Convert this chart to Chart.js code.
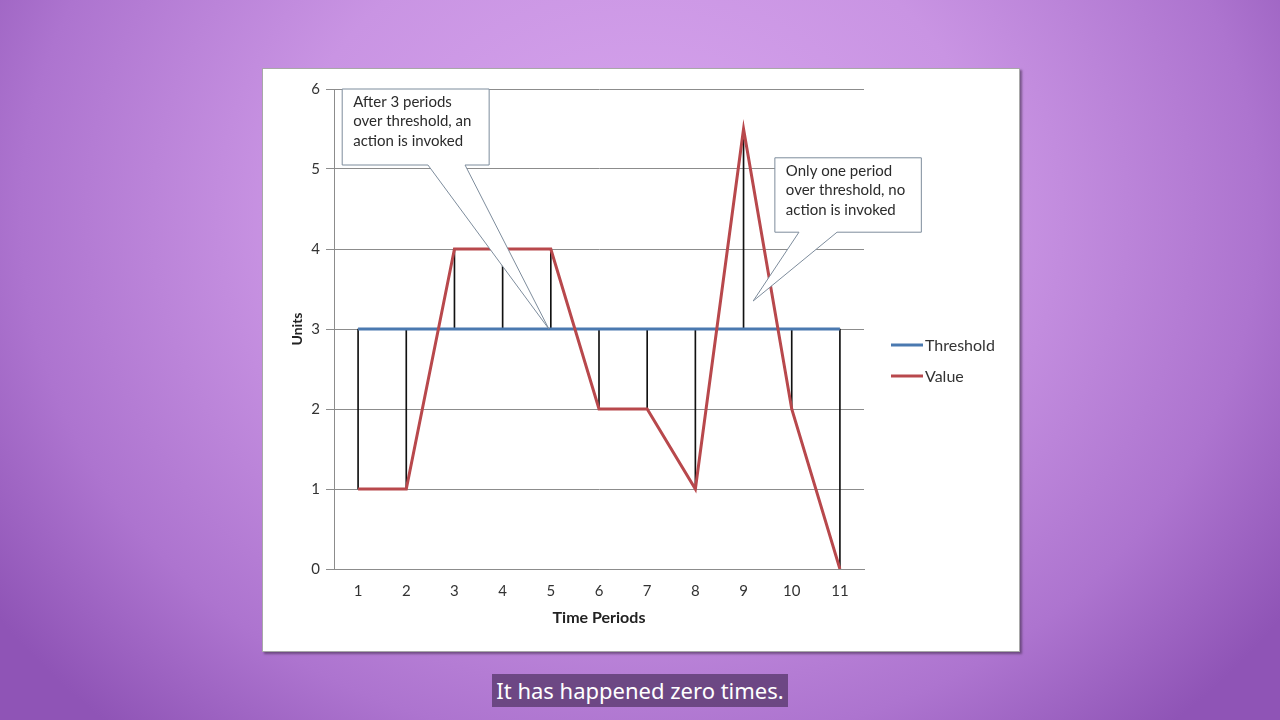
<!DOCTYPE html>
<html>
<head>
<meta charset="utf-8">
<script src="https://cdn.jsdelivr.net/npm/chart.js@4"></script>
<style>
  html, body { margin: 0; padding: 0; }
  body {
    width: 1280px; height: 720px; overflow: hidden; position: relative;
    background: radial-gradient(ellipse 62% 95% at 50% 30%, #d8a6ee 0%, #c994e3 45%, #ad74cf 78%, #8f54b6 100%);
  }
  #panel {
    position: absolute; left: 262px; top: 68px; width: 756px; height: 582px;
    background: #fff; border: 1px solid #a8a8a8;
    box-shadow: 2px 2px 2px rgba(60, 40, 70, 0.55);
  }
  #chart { position: absolute; left: 0; top: 0; }
  #caption {
    position: absolute; left: 492px; top: 674px; width: 296px; height: 33px;
    background: rgba(96, 62, 118, 0.85); color: #fff;
    font-family: "Noto Sans", sans-serif; font-size: 22px; line-height: 33px;
    text-align: center; white-space: nowrap;
  }
</style>
</head>
<body>
<div id="panel"><canvas id="chart" width="756" height="582"></canvas></div>
<div id="caption">It has happened zero times.</div>
<script>
// data
var periods = ['1', '2', '3', '4', '5', '6', '7', '8', '9', '10', '11'];
var threshold = [3, 3, 3, 3, 3, 3, 3, 3, 3, 3, 3];
var values = [1, 1, 4, 4, 4, 2, 2, 1, 5.5, 2, 0];
var yTicks = [0, 1, 2, 3, 4, 5, 6];

// callouts: box corners, tail base and tip in data units (x = period index)
var callouts = [
  { lines: ['After 3 periods', 'over threshold, an', 'action is invoked'],
    box: [-0.33, 6.0, 2.72, 5.05], tail: [1.45, 2.22], tip: [3.96, 3.0] },
  { lines: ['Only one period', 'over threshold, no', 'action is invoked'],
    box: [8.65, 5.14, 11.69, 4.21], tail: [9.15, 9.94], tip: [8.2, 3.35] }
];

var FONT = 'Lato, "Open Sans", sans-serif';
Chart.defaults.font.family = FONT;
Chart.defaults.color = '#333';

var calloutPlugin = {
  id: 'callouts',
  afterDatasetsDraw: function(chart) {
    var ctx = chart.ctx, xs = chart.scales.x, ys = chart.scales.y;
    callouts.forEach(function(c) {
      var l = xs.getPixelForValue(c.box[0]), t = ys.getPixelForValue(c.box[1]);
      var r = xs.getPixelForValue(c.box[2]), b = ys.getPixelForValue(c.box[3]);
      var t1 = xs.getPixelForValue(c.tail[0]), t2 = xs.getPixelForValue(c.tail[1]);
      var tx = xs.getPixelForValue(c.tip[0]), ty = ys.getPixelForValue(c.tip[1]);
      ctx.save();
      ctx.beginPath();
      ctx.moveTo(l, t);
      ctx.lineTo(r, t);
      ctx.lineTo(r, b);
      ctx.lineTo(t2, b);
      ctx.lineTo(tx, ty);
      ctx.lineTo(t1, b);
      ctx.lineTo(l, b);
      ctx.closePath();
      ctx.fillStyle = '#ffffff';
      ctx.fill();
      ctx.strokeStyle = '#7d8c9c';
      ctx.lineWidth = 1;
      ctx.stroke();
      ctx.fillStyle = '#2b2b2b';
      ctx.font = '15px ' + FONT;
      ctx.textBaseline = 'middle';
      c.lines.forEach(function(s, i) {
        ctx.fillText(s, l + 11, t + 13 + i * 19.5);
      });
      ctx.restore();
    });
  }
};

var legendPlugin = {
  id: 'sideLegend',
  afterDraw: function(chart) {
    var ctx = chart.ctx;
    var items = [chart.data.datasets[1], chart.data.datasets[0]];
    ctx.save();
    items.forEach(function(ds, i) {
      var y = 276 + i * 31;
      ctx.strokeStyle = ds.borderColor;
      ctx.lineWidth = 3;
      ctx.beginPath();
      ctx.moveTo(628, y);
      ctx.lineTo(660, y);
      ctx.stroke();
      ctx.fillStyle = '#333';
      ctx.font = '16px ' + FONT;
      ctx.textBaseline = 'middle';
      ctx.fillText(ds.label, 662, y + 1);
    });
    ctx.restore();
  }
};

new Chart(document.getElementById('chart').getContext('2d'), {
  type: 'bar',
  data: {
    labels: periods,
    datasets: [
      { type: 'line', label: 'Value', data: values, borderColor: '#b8484c',
        borderWidth: 3, pointRadius: 0, tension: 0, order: 1 },
      { type: 'line', label: 'Threshold', data: threshold, borderColor: '#4a79b0',
        borderWidth: 3, pointRadius: 0, tension: 0, order: 2 },
      { label: 'drop', data: periods.map(function(_, i) { return [threshold[i], values[i]]; }),
        backgroundColor: '#111', barThickness: 1, borderWidth: 0, order: 3 }
    ]
  },
  options: {
    responsive: false,
    animation: false,
    devicePixelRatio: 1,
    layout: { padding: { left: 0, top: 20, right: 155, bottom: 0 } },
    plugins: { legend: { display: false }, tooltip: { enabled: false } },
    scales: {
      x: {
        grid: { display: false, drawTicks: false },
        border: { color: '#8c8c8c', width: 1 },
        ticks: { padding: 13, font: { size: 15 }, color: '#333' },
        title: { display: true, text: 'Time Periods', font: { size: 16, weight: 'bold' },
                 color: '#222', padding: { top: 4, bottom: 24 } },
        afterFit: function(s) { s.height = 82; }
      },
      y: {
        min: 0, max: 6,
        afterBuildTicks: function(s) { s.ticks = yTicks.map(function(v) { return { value: v }; }); },
        grid: { color: '#8c8c8c', tickLength: 8 },
        border: { color: '#8c8c8c' },
        ticks: { padding: 6, font: { size: 15 }, color: '#333' },
        title: { display: true, text: 'Units', font: { size: 14, weight: 'bold' },
                 color: '#222', padding: { top: 26, bottom: 0 } },
        afterFit: function(s) { s.width = 71; }
      }
    }
  },
  plugins: [calloutPlugin, legendPlugin]
});
</script>
</body>
</html>
